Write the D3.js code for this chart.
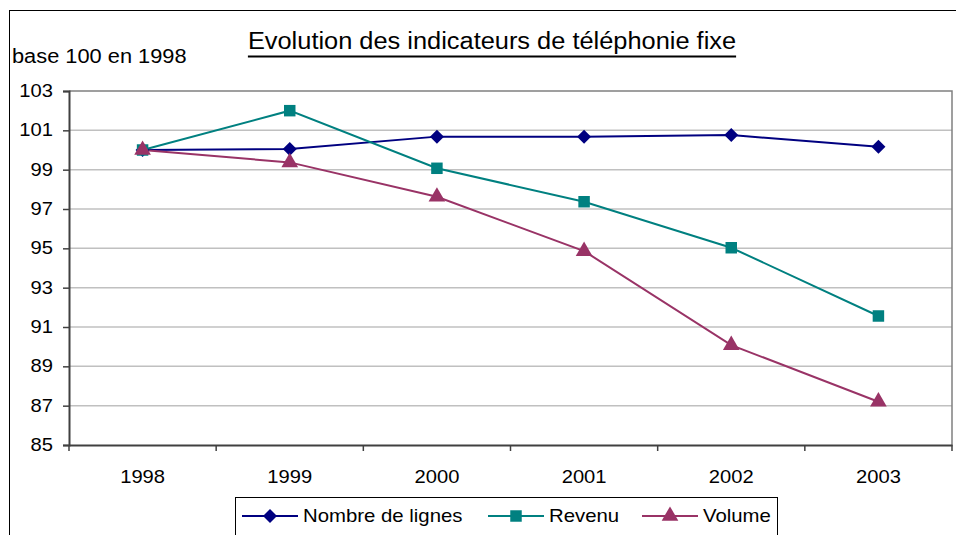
<!DOCTYPE html>
<html>
<head>
<meta charset="utf-8">
<script src="https://cdn.jsdelivr.net/npm/d3@7"></script>
<style>
  body { margin: 0; background: #fff; }
  text { font-family: "Liberation Sans", Arial, sans-serif; fill: #000; }
</style>
</head>
<body>
<svg id="chart" width="956" height="535"></svg>
<script>
// data (base 100 en 1998)
var years = ["1998", "1999", "2000", "2001", "2002", "2003"];
var lignes = [100, 100.05, 100.68, 100.68, 100.76, 100.17];
var revenu = [100, 102.0, 99.07, 97.37, 95.03, 91.56];
var volume = [100, 99.37, 97.62, 94.86, 90.08, 87.2];
var yTicks = [85, 87, 89, 91, 93, 95, 97, 99, 101, 103];

// square diamond, like the excel marker
var diamond = {
  draw: function(ctx, size) {
    var r = Math.sqrt(size / 2);
    ctx.moveTo(0, -r); ctx.lineTo(r, 0); ctx.lineTo(0, r); ctx.lineTo(-r, 0); ctx.closePath();
  }
};

var series = [
  {name: "Nombre de lignes", values: lignes, color: "#000080", symbol: diamond, size: 98},
  {name: "Revenu", values: revenu, color: "#008080", symbol: d3.symbolSquare, size: 132},
  {name: "Volume", values: volume, color: "#993366", symbol: d3.symbolTriangle, size: 120}
];

// the text in the picture is a bit wider than Arial
function stretch(sel, k) {
  sel.each(function() {
    var w = this.getComputedTextLength();
    d3.select(this).attr("textLength", w * k).attr("lengthAdjust", "spacingAndGlyphs");
  });
}

const svg    = d3.select("#chart"),
      margin = {top: 91, right: 4, bottom: 90, left: 69},
      width  = +svg.attr("width")  - margin.left - margin.right,
      height = +svg.attr("height") - margin.top  - margin.bottom;

// outer frame of the chart
svg.append("rect")
    .attr("x", 9.5).attr("y", 10.5)
    .attr("width", 960).attr("height", 540)
    .attr("fill", "none").attr("stroke", "#000");

const x = d3.scaleBand().domain(years).range([0, width]);
const y = d3.scaleLinear().domain([85, 103]).range([height, 0]);

const g = svg.append("g").attr("transform", `translate(${margin.left},${margin.top})`);

// grid lines
g.append("g")
  .selectAll("line")
  .data(yTicks.slice(1, -1))
  .enter().append("line")
    .attr("x1", 0).attr("x2", width)
    .attr("y1", d => y(d)).attr("y2", d => y(d))
    .attr("stroke", "#c0c0c0").attr("stroke-width", 1.5);

// plot border top and right
g.append("path")
    .attr("d", `M0,${y(103)}H${width}V${height}`)
    .attr("fill", "none").attr("stroke", "#808080").attr("stroke-width", 1.5);

// y axis
const yAxis = g.append("g")
    .call(d3.axisLeft(y).tickValues(yTicks).tickSize(6).tickPadding(10));
yAxis.select(".domain").attr("stroke", "#404040").attr("stroke-width", 2);
yAxis.selectAll(".tick line").attr("stroke", "#404040").attr("stroke-width", 1.5);
yAxis.selectAll("text").style("font-size", "18.5px").attr("fill", "#000").attr("dy", "0.3em");
stretch(yAxis.selectAll("text"), 1.09);

// x axis, ticks between categories
const xAxis = g.append("g")
    .attr("transform", `translate(0,${height})`)
    .call(d3.axisBottom(x).tickSize(0).tickPadding(25));
xAxis.select(".domain").attr("stroke", "#404040").attr("stroke-width", 2);
xAxis.selectAll("text").style("font-size", "18.5px").attr("fill", "#000");
stretch(xAxis.selectAll("text"), 1.09);
xAxis.selectAll(".sep")
  .data(years.concat(["end"]))
  .enter().append("line")
    .attr("class", "sep")
    .attr("x1", (d, i) => i * x.step()).attr("x2", (d, i) => i * x.step())
    .attr("y1", 0).attr("y2", 6)
    .attr("stroke", "#404040").attr("stroke-width", 1.5);

// lines and markers
const line = d3.line()
    .x((d, i) => x(years[i]) + x.bandwidth() / 2)
    .y(d => y(d));

series.forEach(s => {
  g.append("path")
      .datum(s.values)
      .attr("d", line)
      .attr("fill", "none")
      .attr("stroke", s.color)
      .attr("stroke-width", 2);
});

series.forEach(s => {
  g.selectAll(null)
    .data(s.values)
    .enter().append("path")
      .attr("d", d3.symbol().type(s.symbol).size(s.size))
      .attr("transform", (d, i) => `translate(${x(years[i]) + x.bandwidth() / 2},${y(d)})`)
      .attr("fill", s.color);
});

// title
const title = svg.append("text")
    .attr("x", 492).attr("y", 49)
    .attr("text-anchor", "middle")
    .style("font-size", "23.5px")
    .text("Evolution des indicateurs de téléphonie fixe");
stretch(title, 1.08);
const tb = title.node().getBBox();
svg.append("line")
    .attr("x1", tb.x).attr("x2", tb.x + tb.width)
    .attr("y1", 56.5).attr("y2", 56.5)
    .attr("stroke", "#000").attr("stroke-width", 2);

const sub = svg.append("text")
    .attr("x", 12).attr("y", 63)
    .style("font-size", "20px")
    .text("base 100 en 1998");
stretch(sub, 1.09);

// legend
const legend = svg.append("g");
legend.append("rect")
    .attr("x", 235.5).attr("y", 497.5)
    .attr("width", 542).attr("height", 50)
    .attr("fill", "#fff").attr("stroke", "#000");

var legendX = [242, 488, 642];
series.forEach((s, i) => {
  const lg = legend.append("g").attr("transform", `translate(${legendX[i]},516)`);
  lg.append("line").attr("x1", 0).attr("x2", 56).attr("stroke", s.color).attr("stroke-width", 2);
  lg.append("path")
      .attr("d", d3.symbol().type(s.symbol).size(s.size))
      .attr("transform", "translate(28,0)")
      .attr("fill", s.color);
  const t = lg.append("text")
      .attr("x", 61).attr("dy", "0.35em")
      .style("font-size", "18.5px")
      .text(s.name);
  stretch(t, 1.1);
});
</script>
</body>
</html>
